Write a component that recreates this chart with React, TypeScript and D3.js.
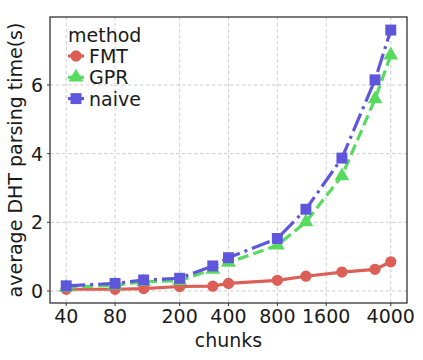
import { useEffect, useRef } from 'react'
import * as d3 from 'd3'

const chunks = [40, 80, 120, 200, 320, 400, 800, 1200, 2000, 3200, 4000]
const fmt = [0.05, 0.05, 0.07, 0.13, 0.14, 0.22, 0.31, 0.43, 0.55, 0.63, 0.85]
const gpr = [0.1, 0.17, 0.27, 0.3, 0.63, 0.83, 1.33, 2.01, 3.35, 5.59, 6.87]
const naive = [0.15, 0.22, 0.32, 0.37, 0.73, 0.97, 1.53, 2.38, 3.87, 6.15, 7.6]
const xTicks = [40, 80, 200, 400, 800, 1600, 4000]
const yTicks = [0, 2, 4, 6]
const methods = ['FMT', 'GPR', 'naive']

export default function App() {
  const svgRef = useRef<SVGSVGElement>(null)
  const width = 423
  const height = 360

  useEffect(() => {
    if (!svgRef.current) return
    const svg = d3.select(svgRef.current)
    svg.selectAll('*').remove()

    const margin = { top: 17, right: 16, bottom: 57, left: 50 }
    const innerW = width - margin.left - margin.right
    const innerH = height - margin.top - margin.bottom
    const font = 'DejaVu Sans, sans-serif'

    // log scale with matplotlib-like 5% padding
    const lx0 = Math.log10(40), lx1 = Math.log10(4000)
    const padX = (lx1 - lx0) * 0.05
    const x = d3.scaleLog()
      .domain([Math.pow(10, lx0 - padX), Math.pow(10, lx1 + padX)])
      .range([0, innerW])
    const y = d3.scaleLinear()
      .domain([-0.35, 7.98])
      .range([innerH, 0])

    const g = svg.append('g')
      .attr('transform', `translate(${margin.left},${margin.top})`)

    // grid
    g.selectAll('.gx').data(xTicks).enter().append('line')
      .attr('x1', d => x(d)).attr('x2', d => x(d))
      .attr('y1', 0).attr('y2', innerH)
      .attr('stroke', '#cccccc').attr('stroke-width', 1)
      .attr('stroke-dasharray', '3.5,2.5')
    g.selectAll('.gy').data(yTicks).enter().append('line')
      .attr('x1', 0).attr('x2', innerW)
      .attr('y1', d => y(d)).attr('y2', d => y(d))
      .attr('stroke', '#cccccc').attr('stroke-width', 1)
      .attr('stroke-dasharray', '3.5,2.5')

    const series = [
      { name: 'FMT', values: fmt, color: '#db5f57', dash: null, marker: 'circle' },
      { name: 'GPR', values: gpr, color: '#57db5f', dash: '11,5', marker: 'triangle' },
      { name: 'naive', values: naive, color: '#5f57db', dash: '19,5,3,5', marker: 'square' },
    ]

    const line = d3.line<number>()
      .x((_, i) => x(chunks[i]))
      .y(d => y(d))

    const symbolFor = (m: string) =>
      m === 'circle' ? d3.symbol(d3.symbolCircle, 100)
        : m === 'square' ? d3.symbol(d3.symbolSquare, 120)
        : d3.symbol(d3.symbolTriangle, 95)

    series.forEach(s => {
      g.append('path')
        .attr('d', line(s.values))
        .attr('fill', 'none')
        .attr('stroke', s.color)
        .attr('stroke-width', 3.2)
        .attr('stroke-dasharray', s.dash)
      g.selectAll(null).data(s.values).enter().append('path')
        .attr('d', symbolFor(s.marker)())
        .attr('transform', (d, i) => `translate(${x(chunks[i])},${y(d)})`)
        .attr('fill', s.color)
    })

    // frame
    g.append('rect')
      .attr('width', innerW).attr('height', innerH)
      .attr('fill', 'none').attr('stroke', '#333333').attr('stroke-width', 1.3)

    // ticks
    g.selectAll('.tx').data(xTicks).enter().append('line')
      .attr('x1', d => x(d)).attr('x2', d => x(d))
      .attr('y1', innerH).attr('y2', innerH + 3)
      .attr('stroke', '#333')
    g.selectAll('.tlx').data(xTicks).enter().append('text')
      .attr('x', d => x(d)).attr('y', innerH + 20)
      .attr('text-anchor', 'middle')
      .attr('font-family', font).attr('font-size', 19).attr('fill', '#1a1a1a')
      .text(d => String(d))
    g.selectAll('.ty').data(yTicks).enter().append('line')
      .attr('x1', -3).attr('x2', 0)
      .attr('y1', d => y(d)).attr('y2', d => y(d))
      .attr('stroke', '#333')
    g.selectAll('.tly').data(yTicks).enter().append('text')
      .attr('x', -7).attr('y', d => y(d) + 7)
      .attr('text-anchor', 'end')
      .attr('font-family', font).attr('font-size', 19).attr('fill', '#1a1a1a')
      .text(d => String(d))

    // axis labels
    g.append('text')
      .attr('x', innerW / 2).attr('y', innerH + 44)
      .attr('text-anchor', 'middle')
      .attr('font-family', font).attr('font-size', 19).attr('fill', '#1a1a1a')
      .text('chunks')
    g.append('text')
      .attr('transform', `translate(${-28},${innerH / 2}) rotate(-90)`)
      .attr('text-anchor', 'middle')
      .attr('font-family', font).attr('font-size', 19).attr('fill', '#1a1a1a')
      .text('average DHT parsing time(s)')

    // legend
    const lg = g.append('g').attr('transform', 'translate(18,0)')
    lg.append('text')
      .attr('x', 0).attr('y', 25)
      .attr('font-family', font).attr('font-size', 19).attr('fill', '#1a1a1a')
      .text('method')
    methods.forEach((m, i) => {
      const s = series[i]
      const cy = 39 + i * 21.3
      lg.append('line')
        .attr('x1', 0).attr('x2', 16).attr('y1', cy).attr('y2', cy)
        .attr('stroke', s.color).attr('stroke-width', 3.2)
      lg.append('path')
        .attr('d', symbolFor(s.marker)())
        .attr('transform', `translate(8,${cy})`)
        .attr('fill', s.color)
      lg.append('text')
        .attr('x', 21).attr('y', cy + 7)
        .attr('font-family', font).attr('font-size', 19).attr('fill', '#1a1a1a')
        .text(m)
    })
  }, [])

  return (
    <svg
      ref={svgRef}
      width={width}
      height={height}
      style={{ position: 'absolute', left: 0, top: 0, background: '#fff' }}
    />
  )
}
